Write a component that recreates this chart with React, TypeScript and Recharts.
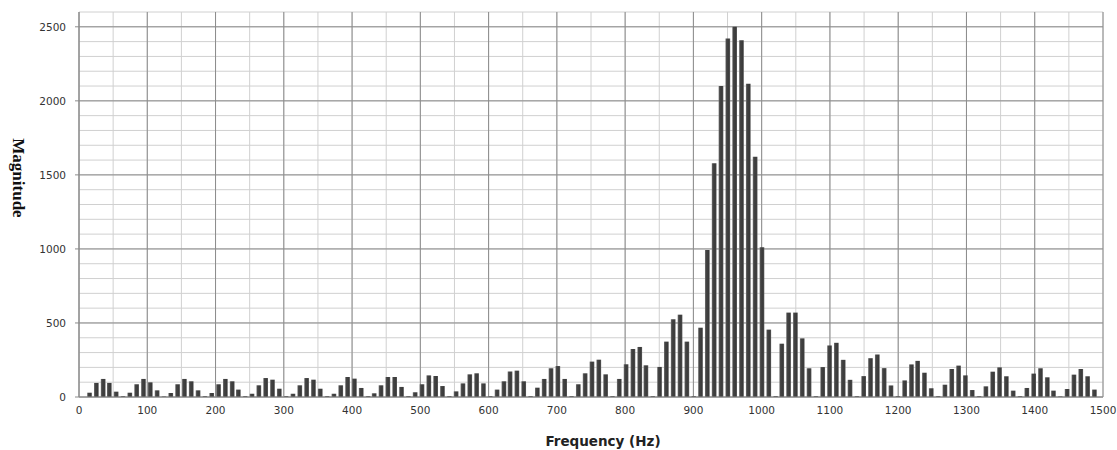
import React from "react";
import { BarChart, Bar, XAxis, YAxis, CartesianGrid } from "recharts";

const frequencies = [
  15, 25, 35, 44, 54, 64, 74, 84, 94, 104, 114, 124, 134, 144, 154, 164, 174, 184, 194, 204,
  214, 224, 233, 243, 253, 263, 273, 283, 293, 303, 313, 323, 333, 343, 353, 363, 373, 383, 393, 403,
  413, 423, 432, 442, 452, 462, 472, 482, 492, 502, 512, 522, 532, 542, 552, 562, 572, 582, 592, 602,
  612, 622, 631, 641, 651, 661, 671, 681, 691, 701, 711, 721, 731, 741, 751, 761, 771, 781, 791, 801,
  811, 821, 830, 840, 850, 860, 870, 880, 890, 900, 910, 920, 930, 940, 950, 960, 970, 980, 990, 1000,
  1010, 1020, 1029, 1039, 1049, 1059, 1069, 1079, 1089, 1099, 1109, 1119, 1129, 1139, 1149, 1159, 1169, 1179, 1189, 1199,
  1209, 1219, 1228, 1238, 1248, 1258, 1268, 1278, 1288, 1298, 1308, 1318, 1328, 1338, 1348, 1358, 1368, 1378, 1388, 1398,
  1408, 1418, 1427, 1437, 1447, 1457, 1467, 1477, 1487,
];

const magnitudes = [
  29, 95, 122, 95, 36, 6, 29, 86, 122, 99, 45, 4, 27, 86, 122, 106, 45, 6, 27, 86,
  122, 106, 50, 6, 22, 79, 128, 117, 56, 6, 22, 79, 128, 117, 56, 6, 22, 79, 135, 124,
  61, 6, 25, 79, 135, 135, 68, 6, 32, 86, 146, 142, 74, 6, 38, 92, 153, 160, 92, 6,
  50, 106, 173, 178, 106, 6, 63, 122, 194, 209, 122, 6, 86, 160, 239, 252, 153, 6, 122, 221,
  324, 338, 214, 6, 203, 374, 525, 556, 374, 6, 468, 993, 1579, 2101, 2421, 2500, 2410, 2115, 1622, 1011,
  455, 6, 360, 570, 570, 396, 194, 6, 202, 348, 366, 251, 116, 6, 141, 262, 287, 195, 78, 6,
  112, 220, 244, 164, 59, 6, 83, 189, 212, 146, 47, 6, 72, 171, 200, 140, 43, 6, 61, 158,
  194, 133, 43, 4, 54, 151, 189, 140, 50,
];

const xTicks = [0, 100, 200, 300, 400, 500, 600, 700, 800, 900, 1000, 1100, 1200, 1300, 1400, 1500];
const yTicks = [0, 500, 1000, 1500, 2000, 2500];
const xMinorGrid = [
  0, 50, 100, 150, 200, 250, 300, 350, 400, 450, 500, 550, 600, 650, 700, 750, 800, 850, 900, 950,
  1000, 1050, 1100, 1150, 1200, 1250, 1300, 1350, 1400, 1450, 1500,
];
const yMinorGrid = [
  0, 100, 200, 300, 400, 500, 600, 700, 800, 900, 1000, 1100, 1200, 1300, 1400, 1500, 1600, 1700,
  1800, 1900, 2000, 2100, 2200, 2300, 2400, 2500, 2600,
];

const data = frequencies.map((f, i) => ({ f, m: magnitudes[i] }));

export default function App() {
  return (
    <div style={{ position: "fixed", left: 0, top: 0, width: 1117, height: 450, background: "#fff" }}>
      <BarChart
        width={1117}
        height={450}
        data={data}
        margin={{ top: 12, right: 14, bottom: 23, left: 19 }}
      >
        <defs>
          <linearGradient id="barGrad" x1="0" y1="0" x2="1" y2="0">
            <stop offset="0%" stopColor="#767676" />
            <stop offset="25%" stopColor="#444444" />
            <stop offset="75%" stopColor="#3a3a3a" />
            <stop offset="100%" stopColor="#5e5e5e" />
          </linearGradient>
        </defs>
        <CartesianGrid
          stroke="#d0d0d0"
          strokeWidth={1}
          horizontalValues={yMinorGrid}
          verticalValues={xMinorGrid}
        />
        <CartesianGrid
          stroke="#8c8c8c"
          strokeWidth={1}
          horizontalValues={yTicks}
          verticalValues={xTicks}
        />
        <XAxis
          dataKey="f"
          type="number"
          domain={[0, 1500]}
          ticks={xTicks}
          interval={0}
          tickSize={0}
          tickMargin={10}
          axisLine={{ stroke: "#8c8c8c" }}
          tick={{ fill: "#333", fontSize: 10.5, fontFamily: "DejaVu Sans" }}
          height={30}
        />
        <YAxis
          type="number"
          domain={[0, 2600]}
          ticks={yTicks}
          interval={0}
          width={60}
          tickSize={4}
          tickMargin={9}
          axisLine={{ stroke: "#8c8c8c" }}
          tickLine={{ stroke: "#8c8c8c" }}
          tick={{ fill: "#333", fontSize: 10.5, fontFamily: "DejaVu Sans" }}
        />
        <Bar dataKey="m" barSize={4.7} fill="url(#barGrad)" isAnimationActive={false} />
        <text
          x={603}
          y={446}
          textAnchor="middle"
          fontFamily="DejaVu Sans"
          fontWeight="bold"
          fontSize={13.5}
          fill="#222"
        >
          Frequency (Hz)
        </text>
        <text
          x={18}
          y={178}
          textAnchor="middle"
          dominantBaseline="central"
          transform="rotate(90 18 178)"
          fontFamily="Liberation Serif"
          fontWeight="bold"
          fontSize={17}
          fill="#111"
        >
          Magnitude
        </text>
      </BarChart>
    </div>
  );
}
